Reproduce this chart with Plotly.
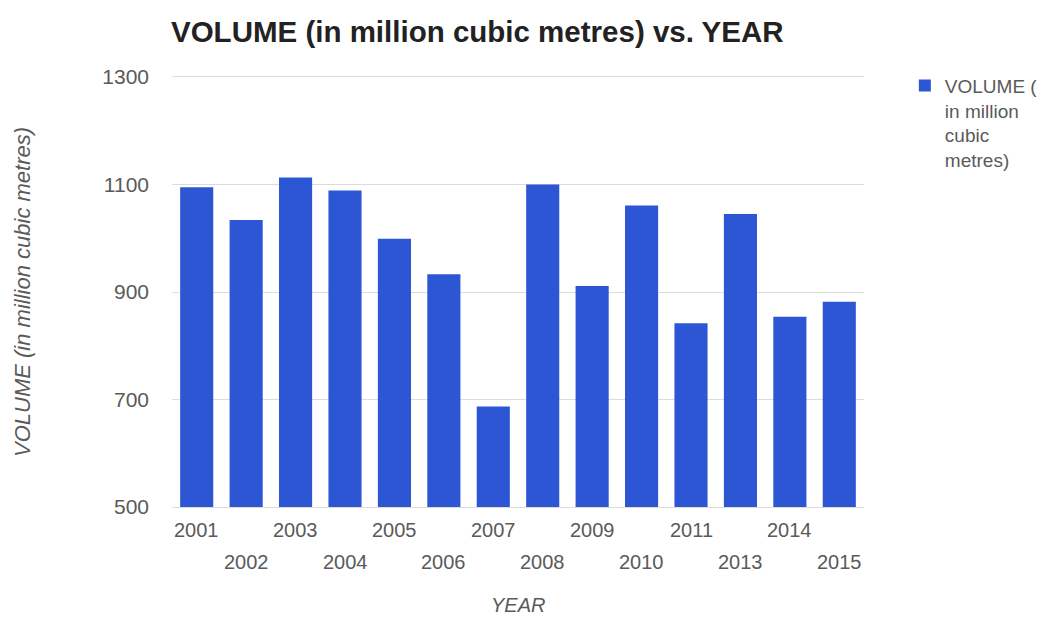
import plotly.graph_objects as go

years = ["2001", "2002", "2003", "2004", "2005", "2006", "2007", "2008",
         "2009", "2010", "2011", "2013", "2014", "2015"]
volume = [1095, 1034, 1113, 1089, 999, 933, 687, 1100, 911, 1061, 842, 1045, 854, 882]
y_ticks = [500, 700, 900, 1100, 1300]

series_name = "VOLUME (<br>in million<br>cubic<br>metres)"
grey = "#5a5a5a"
grid = "#dcdcdc"
font_family = "Liberation Sans, Arial, sans-serif"

# page body adds an 8px margin, so the figure is sized to fit the window
W, H = 1046, 609

fig = go.Figure()
fig.add_trace(go.Bar(
    x=years, y=volume, name=series_name,
    marker=dict(color="#2d56d5", line=dict(width=0)),
    showlegend=True,
))

# staggered x tick labels (two rows), placed on the category axis by index
for i, yr in enumerate(years):
    fig.add_annotation(
        x=i, y=0, xref="x", yref="paper",
        text=yr, showarrow=False,
        yanchor="middle", yshift=-23 if i % 2 == 0 else -55,
        font=dict(size=20, color=grey, family=font_family),
    )

# axis titles
fig.add_annotation(
    x=0.5, y=0, xref="paper", yref="paper", text="<i>YEAR</i>", showarrow=False,
    yanchor="middle", yshift=-98, font=dict(size=20, color=grey, family=font_family),
)
fig.add_annotation(
    x=0, y=0.5, xref="paper", yref="paper",
    text="<i>VOLUME (in million cubic metres)</i>", showarrow=False,
    textangle=-90, xanchor="center", xshift=-150,
    font=dict(size=22, color=grey, family=font_family),
)

fig.update_layout(
    width=W, height=H,
    margin=dict(l=164, r=189, t=69, b=110),
    paper_bgcolor="white", plot_bgcolor="white",
    font=dict(family=font_family, color=grey),
    title=dict(
        text="<b>VOLUME (in million cubic metres) vs. YEAR</b>",
        x=163 / W, xanchor="left", y=1 - 24 / H, yanchor="middle",
        font=dict(size=29.5, color="#222222", family=font_family),
    ),
    bargap=0.33,
    legend=dict(
        x=1.0575, xanchor="left", y=1.024, yanchor="top",
        font=dict(size=19, color=grey), valign="top",
        tracegroupgap=0,
    ),
    xaxis=dict(
        type="category", range=[-0.5, len(years) - 0.5],
        showticklabels=False, showgrid=False,
        zeroline=False, showline=True, mirror=True,
        linecolor=grid, linewidth=1, layer="below traces",
        automargin=False,
    ),
    yaxis=dict(
        range=[500, 1300], tickvals=y_ticks, ticktext=[str(v) for v in y_ticks],
        showgrid=True, gridcolor=grid, gridwidth=1,
        zeroline=False, showline=False, automargin=False,
        tickfont=dict(size=21, color=grey), ticklabelstandoff=22,
    ),
)

fig.write_html("out.html")
